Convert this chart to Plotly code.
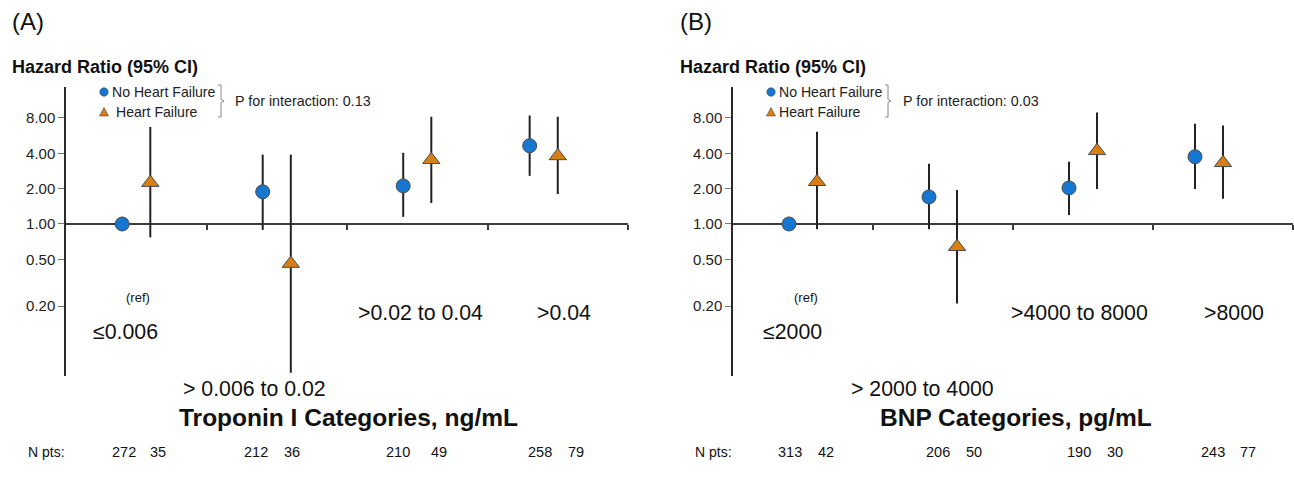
import plotly.graph_objects as go
import numpy as np

# ---------------- data ----------------
trop_categories = ["≤0.006", "> 0.006 to 0.02", ">0.02 to 0.04", ">0.04"]
bnp_categories = ["≤2000", "> 2000 to 4000", ">4000 to 8000", ">8000"]
series_names = ["No Heart Failure", "Heart Failure"]

trop_nohf_hr = [1.00, 1.88, 2.11, 4.64]
trop_nohf_lo = [1.00, 0.89, 1.15, 2.57]
trop_nohf_hi = [1.00, 3.90, 4.04, 8.40]
trop_hf_hr = [2.25, 0.46, 3.52, 3.80]
trop_hf_lo = [0.77, 0.054, 1.51, 1.80]
trop_hf_hi = [6.70, 3.90, 8.20, 8.20]

bnp_nohf_hr = [1.00, 1.70, 2.03, 3.74]
bnp_nohf_lo = [1.00, 0.90, 1.19, 1.99]
bnp_nohf_hi = [1.00, 3.26, 3.39, 7.16]
bnp_hf_hr = [2.29, 0.64, 4.20, 3.32]
bnp_hf_lo = [0.90, 0.21, 1.99, 1.64]
bnp_hf_hi = [6.10, 1.95, 8.90, 6.90]

trop_n_nohf = [272, 212, 210, 258]
trop_n_hf = [35, 36, 49, 79]
bnp_n_nohf = [313, 206, 190, 243]
bnp_n_hf = [42, 50, 30, 77]

trop_p = "P for interaction: 0.13"
bnp_p = "P for interaction: 0.03"

ytick_vals = [0.2, 0.5, 1, 2, 4, 8]
ytick_text = ["0.20", "0.50", "1.00", "2.00", "4.00", "8.00"]

# ---------------- layout helpers ----------------
W, H = 1294, 479
FONT = "Liberation Sans, Arial, sans-serif"
BLUE = "#1577d2"
ORANGE = "#d97e12"
AXC = "#3c3c3c"


def px(x):
    return x / W


def py(y):
    return 1 - y / H


Y_RANGE = [-1.295, 1.167]
Y_DOM = [py(376), py(87)]
X_RANGE = [0, 4]
x_cross = Y_DOM[0] + (0 - Y_RANGE[0]) / (Y_RANGE[1] - Y_RANGE[0]) * (Y_DOM[1] - Y_DOM[0])

cat_idx = np.arange(4) + 0.5
off_nohf = np.array([-0.1, -0.1, -0.1, -0.2])
off_hf = np.array([0.1, 0.1, 0.1, 0.0])

fig = go.Figure()


def add_series(hr, lo, hi, xs, xa, ya, symbol, color, name):
    hr = np.array(hr, float)
    lo = np.array(lo, float)
    hi = np.array(hi, float)
    fig.add_trace(go.Scatter(
        x=xs, y=hr, xaxis=xa, yaxis=ya, mode="markers", name=name,
        showlegend=False,
        marker=dict(symbol=symbol, size=14 if symbol == "circle" else 15,
                    color=color, line=dict(color="#4a4a4a", width=1)),
        error_y=dict(type="data", symmetric=False, array=hi - hr,
                     arrayminus=hr - lo, width=0, thickness=2, color="#222222"),
    ))


add_series(trop_nohf_hr, trop_nohf_lo, trop_nohf_hi, cat_idx + off_nohf, "x", "y", "circle", BLUE, series_names[0])
add_series(trop_hf_hr, trop_hf_lo, trop_hf_hi, cat_idx + off_hf, "x", "y", "triangle-up", ORANGE, series_names[1])
add_series(bnp_nohf_hr, bnp_nohf_lo, bnp_nohf_hi, cat_idx + off_nohf, "x2", "y2", "circle", BLUE, series_names[0])
add_series(bnp_hf_hr, bnp_hf_lo, bnp_hf_hi, cat_idx + off_hf, "x2", "y2", "triangle-up", ORANGE, series_names[1])


def xaxis_cfg(dom, anchor):
    return dict(domain=dom, range=X_RANGE, anchor="free", position=x_cross,
                showline=True, linecolor=AXC, linewidth=2, showgrid=False,
                zeroline=False, tickvals=[1, 2, 3, 4], ticks="outside",
                ticklen=5, tickwidth=2, tickcolor=AXC, showticklabels=False,
                layer="below traces", fixedrange=True)


def yaxis_cfg(anchor):
    return dict(domain=Y_DOM, type="log", range=Y_RANGE, anchor=anchor,
                showline=True, linecolor="#2a2a2a", linewidth=1.5, showgrid=False,
                zeroline=False, tickvals=ytick_vals, ticktext=ytick_text,
                ticks="outside", ticklen=6, tickwidth=1, tickcolor="#777777",
                tickfont=dict(size=15, color="#222222", family=FONT),
                layer="below traces", fixedrange=True)


annotations = []
shapes = []


def text(x, y, s, size, xanchor="center", bold=False, xref="paper", color="#111111"):
    annotations.append(dict(
        x=x, y=y, xref=xref, yref="paper", text=f"<b>{s}</b>" if bold else s,
        showarrow=False, xanchor=xanchor, yanchor="middle",
        font=dict(size=size, family=FONT, color=color)))


def panel(letter, left_px, xa, cats, n_nohf, n_hf, ptext, title, cat_pos, title_cx, n_pos, npts_x, leg):
    # panel letter and y-title
    text(px(left_px), py(22), letter, 24, xanchor="left")
    text(px(left_px), py(67), "Hazard Ratio (95% CI)", 18, xanchor="left", bold=True)
    # category labels
    for (cx, cy), s in zip(cat_pos, cats):
        text(cx, py(cy), s, 21.3, xref=xa)
    text(cat_pos[0][0] + 0.09, py(297), "(ref)", 13, xref=xa)
    text(px(title_cx), py(417), title, 24.5, bold=True)
    # N pts row
    text(px(npts_x), py(452), "N pts:", 14, xanchor="left")
    for i in range(4):
        text(n_pos[2 * i], py(452), str(n_nohf[i]), 14.5, xref=xa)
        text(n_pos[2 * i + 1], py(452), str(n_hf[i]), 14.5, xref=xa)
    # legend
    mx, tx1, tx2, bx, ptx = leg
    shapes.append(dict(type="circle", xref="paper", yref="paper",
                       x0=px(mx - 4.2), x1=px(mx + 4.2), y0=py(96.2), y1=py(87.8),
                       fillcolor=BLUE, line=dict(color="#4a4a4a", width=0.6)))
    shapes.append(dict(type="path", xref="paper", yref="paper",
                       path=f"M {px(mx-4.5)},{py(116)} L {px(mx+4.5)},{py(116)} L {px(mx)},{py(107.5)} Z",
                       fillcolor=ORANGE, line=dict(color="#4a4a4a", width=0.6)))
    text(px(tx1), py(92), series_names[0], 14.1, xanchor="left", color="#222222")
    text(px(tx2), py(112), series_names[1], 14.1, xanchor="left", color="#222222")
    shapes.append(dict(type="path", xref="paper", yref="paper",
                       path=(f"M {px(bx-3)},{py(85)} L {px(bx)},{py(85)} L {px(bx)},{py(99.5)} "
                             f"L {px(bx+3)},{py(101)} L {px(bx)},{py(102.5)} L {px(bx)},{py(117)} L {px(bx-3)},{py(117)}"),
                       line=dict(color="#888888", width=1)))
    text(px(ptx), py(101), ptext, 14.3, xanchor="left", color="#222222")


panel("(A)", 10, "x", trop_categories, trop_n_nohf, trop_n_hf, trop_p,
      "Troponin I Categories, ng/mL",
      [(0.42, 332), (1.345, 389), (2.52, 313), (3.545, 313)], 348,
      [0.413, 0.655, 1.352, 1.609, 2.363, 2.655, 3.374, 3.630], 26,
      (104, 110, 114, 221, 233))
panel("(B)", 678, "x2", bnp_categories, bnp_n_nohf, bnp_n_hf, bnp_p,
      "BNP Categories, pg/mL",
      [(0.428, 332), (1.35, 389), (2.474, 313), (3.58, 313)], 1016,
      [0.406, 0.663, 1.462, 1.719, 2.474, 2.731, 3.426, 3.676], 693,
      (771, 777, 777, 888, 901))

fig.update_layout(
    width=W, height=H,
    margin=dict(l=0, r=0, t=0, b=0),
    paper_bgcolor="white", plot_bgcolor="white",
    font=dict(family=FONT, color="#111111"),
    showlegend=False,
    xaxis=xaxis_cfg([px(66), px(628)], "y"),
    yaxis=yaxis_cfg("x"),
    xaxis2=xaxis_cfg([px(733), px(1293)], "y2"),
    yaxis2=yaxis_cfg("x2"),
    annotations=annotations,
    shapes=shapes,
)

fig.write_html("out.html", config={"displayModeBar": False},
               post_script="document.body.style.margin='0';document.body.style.overflow='hidden';")
